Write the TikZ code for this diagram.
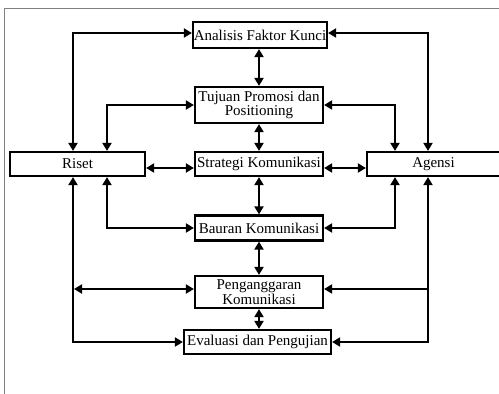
\documentclass[tikz,border=0pt]{standalone}
\usepackage{fontspec}
\setmainfont{Liberation Serif}
\usetikzlibrary{arrows.meta}

\tikzset{
  box/.style={draw, line width=2.2pt, inner sep=0pt, align=center,
    font=\fontsize{15}{12.5}\selectfont},
}

\begin{document}
\begin{tikzpicture}[x=1pt,y=-1pt,line width=2pt,
    >={Triangle[length=8pt,width=9pt]}]
    \useasboundingbox (0,0) rectangle (499,394);
    \draw [gray,line width=0.8pt] (4,394) -- (4,8) -- (499,8);
    % boxes
    \node [box,minimum width=134pt,minimum height=26pt] (ana) at (260,35) {Analisis Faktor Kunci};
    \node [box,minimum width=128pt,minimum height=36pt] (tuj) at (259,105) {Tujuan Promosi dan\\Positioning};
    \node [box,minimum width=128pt,minimum height=24pt] (str) at (259,164) {Strategi Komunikasi};
    \node [box,minimum width=128pt,minimum height=25pt] (bau) at (259,228) {Bauran Komunikasi};
    \node [box,minimum width=128pt,minimum height=32pt] (peng) at (259,292) {Penganggaran\\Komunikasi};
    \node [box,minimum width=147pt,minimum height=24pt] (eva) at (257.5,342) {Evaluasi dan Pengujian};
    \node [box,minimum width=135pt,minimum height=24pt] (riset) at (77.5,164) {Riset};
    \node [box,minimum width=133pt,minimum height=24pt] (agn) at (433.5,164) {Agensi};
    % middle column
    \foreach \a/\b in {ana/tuj,tuj/str,str/bau,bau/peng,peng/eva}
        \draw [<->] (\a.south -| str.south) -- (\b.north -| str.south);
    % left side
    \draw [<->] ([yshift=2pt]ana.west) -| ([xshift=-4.5pt]riset.north);
    \draw [<->] (tuj.west) -| ([xshift=29.5pt]riset.north);
    \draw [<->] ([yshift=-4pt]riset.east) -- ([yshift=-4pt]str.west);
    \draw [<->] ([xshift=29.5pt]riset.south) |- (bau.west);
    \draw [<->] ([xshift=-4.5pt]riset.south) |- (eva.west);
    \coordinate (pl) at (74,289);
    \draw [<->] (pl) -- (pl -| peng.west);
    % right side
    \draw [<->] ([yshift=2pt]ana.east) -| ([xshift=-5.5pt]agn.north);
    \draw [<->] (tuj.east) -| ([xshift=-38.5pt]agn.north);
    \draw [<->] ([yshift=-4pt]str.east) -- ([yshift=-4pt]agn.west);
    \draw [<->] ([xshift=-38.5pt]agn.south) |- (bau.east);
    \draw [<->] ([xshift=-5.5pt]agn.south) |- (eva.east);
    \coordinate (pr) at (428,289);
    \draw [->] (pr) -- (pr -| peng.east);
\end{tikzpicture}
\end{document}
